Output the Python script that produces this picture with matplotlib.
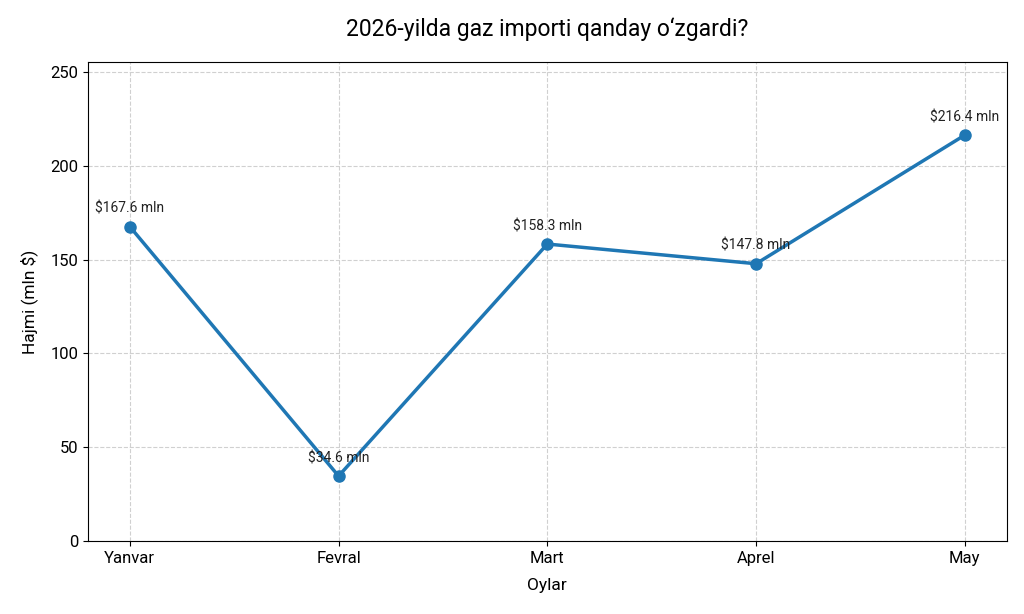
import matplotlib
matplotlib.use('Agg')
import matplotlib.pyplot as plt

plt.rcParams['font.family'] = ['Roboto', 'DejaVu Sans']

months = ['Yanvar', 'Fevral', 'Mart', 'Aprel', 'May']
values = [167.6, 34.6, 158.3, 147.8, 216.4]

fig, ax = plt.subplots(figsize=(10.24, 6.14), dpi=100)
x = list(range(len(months)))
ax.plot(x, values, color='#1f77b4', linewidth=2.5, marker='o', markersize=8)

for xi, v in zip(x, values):
    ax.annotate(f'${v} mln', (xi, v), textcoords='offset points', xytext=(0, 10),
                ha='center', fontsize=10, color='#222222')

ax.set_xticks(x)
ax.set_xticklabels(months)
ax.set_ylim(0, max(values) * 1.18)
ax.grid(True, linestyle='--', color='#d0d0d0', linewidth=0.8)
ax.set_axisbelow(True)
ax.tick_params(labelsize=12)

ax.set_title('2026-yilda gaz importi qanday o‘zgardi?', fontsize=16.5, pad=19)
ax.set_xlabel('Oylar', fontsize=12.5, labelpad=9)
ax.set_ylabel('Hajmi (mln $)', fontsize=12.5, labelpad=9)

plt.subplots_adjust(left=0.086, right=0.983, top=0.899, bottom=0.119)
fig.savefig('out.png', dpi=100)
